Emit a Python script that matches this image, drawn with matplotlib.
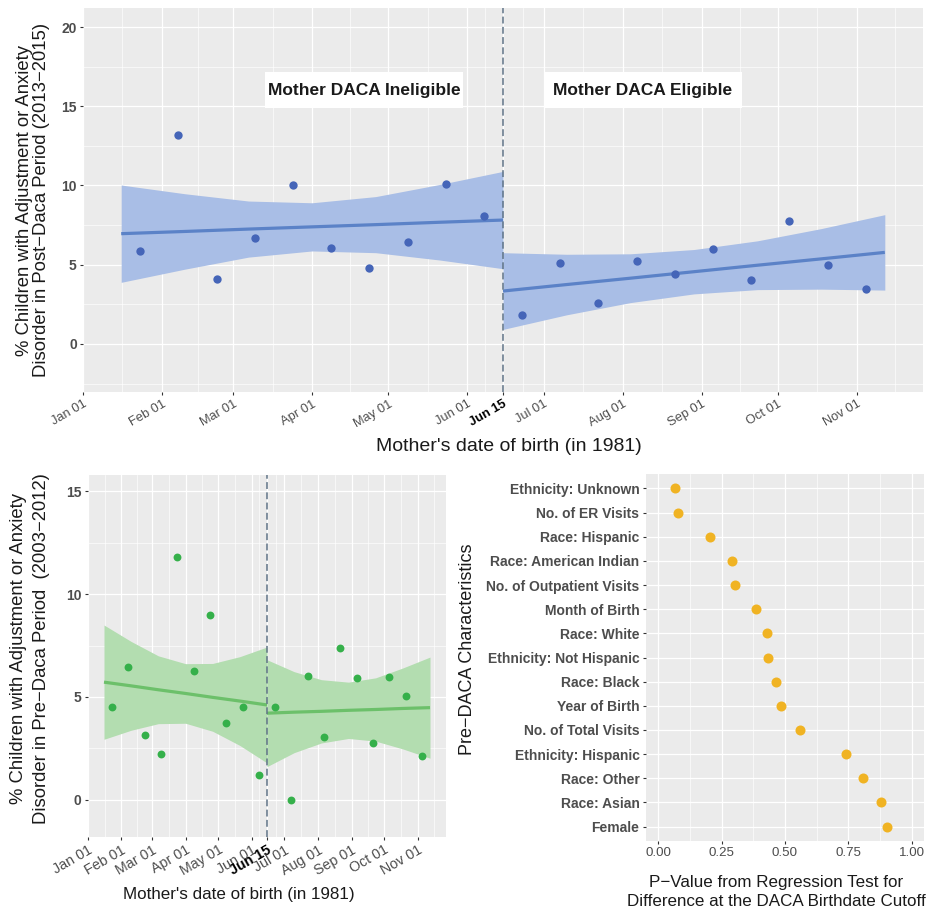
import numpy as np
import pandas as pd
import matplotlib
matplotlib.use('Agg')
import matplotlib.pyplot as plt
from matplotlib.patches import Rectangle

plt.rcParams['font.family'] = ['Liberation Sans', 'DejaVu Sans']

start = pd.Timestamp('1981-01-01')
cutoff = pd.Timestamp('1981-06-15')
cut_day = (cutoff - start).days

# 15-day bins of mother's birth date, centres as days after Jan 01 1981
bin_day = [22.5, 37.5, 52.5, 67.5, 82.5, 97.5, 112.5, 127.5, 142.5, 157.5,
           172.5, 187.5, 202.5, 217.5, 232.5, 247.5, 262.5, 277.5, 292.5, 307.5]
post_pct = [5.87, 13.2, 4.08, 6.67, 10.0, 6.04, 4.8, 6.42, 10.1, 8.08,
            1.85, 5.09, 2.59, 5.26, 4.42, 5.97, 4.04, 7.76, 4.98, 3.49]
pre_pct = [4.53, 6.45, 3.13, 2.23, 11.79, 6.25, 8.98, 3.72, 4.5, 1.19,
           4.53, 0.0, 6.04, 3.05, 7.4, 5.93, 2.76, 5.99, 5.04, 2.14]

# linear fits with 95% bands
fit_day_left = [15, 40, 65, 90, 115, 140, 165]
fit_day_right = [165, 190, 215, 240, 265, 290, 315]

post_fit_left = [6.96, 7.10, 7.25, 7.39, 7.53, 7.68, 7.82]
post_hi_left = [10.03, 9.48, 9.02, 8.91, 9.30, 10.06, 10.89]
post_lo_left = [3.89, 4.72, 5.48, 5.87, 5.76, 5.30, 4.75]
post_fit_right = [3.34, 3.75, 4.15, 4.56, 4.97, 5.37, 5.78]
post_hi_right = [5.76, 5.66, 5.69, 5.96, 6.51, 7.28, 8.16]
post_lo_right = [0.92, 1.84, 2.61, 3.16, 3.43, 3.46, 3.40]

pre_fit_left = [5.72, 5.54, 5.35, 5.17, 4.98, 4.80, 4.61]
pre_hi_left = [8.50, 7.70, 7.00, 6.62, 6.63, 6.96, 7.43]
pre_lo_left = [2.94, 3.38, 3.70, 3.72, 3.33, 2.64, 1.79]
pre_fit_right = [4.21, 4.26, 4.30, 4.35, 4.39, 4.44, 4.48]
pre_hi_right = [6.81, 6.23, 5.84, 5.72, 5.93, 6.41, 6.94]
pre_lo_right = [1.61, 2.29, 2.76, 2.98, 2.85, 2.47, 2.02]

characteristics = ['Ethnicity: Unknown', 'No. of ER Visits', 'Race: Hispanic',
                   'Race: American Indian', 'No. of Outpatient Visits', 'Month of Birth',
                   'Race: White', 'Ethnicity: Not Hispanic', 'Race: Black', 'Year of Birth',
                   'No. of Total Visits', 'Ethnicity: Hispanic', 'Race: Other',
                   'Race: Asian', 'Female']
p_values = [0.064, 0.079, 0.204, 0.291, 0.301, 0.387, 0.427, 0.431, 0.465, 0.486,
            0.560, 0.742, 0.806, 0.878, 0.903]

month_starts = pd.date_range('1981-01-01', '1981-12-01', freq='MS')
tick_dates = sorted(list(month_starts[:-1]) + [cutoff])
tick_days = [(d - start).days for d in tick_dates]
tick_labels = [d.strftime('%b %d') for d in tick_dates]
all_breaks = sorted([(d - start).days for d in month_starts] + [cut_day])
minor_days = [(a + b) / 2 for a, b in zip(all_breaks[:-1], all_breaks[1:])]

BG = '#ebebeb'
TICK = '#333333'
LAB = '#4d4d4d'


def gg_axes(ax):
    ax.set_facecolor(BG)
    for s in ax.spines.values():
        s.set_visible(False)
    ax.grid(which='major', color='white', lw=0.9)
    ax.grid(which='minor', color='white', lw=0.45)
    ax.set_axisbelow(True)
    ax.tick_params(which='major', length=2.5, width=0.8, color=TICK, labelcolor=LAB, pad=2)
    ax.tick_params(which='minor', length=0)


def date_panel(ax, pct, fits, pt_col, line_col, band_col, ylim, yticks, xfs, yfs, pt_size):
    gg_axes(ax)
    for days, fit, lo, hi in fits:
        ax.fill_between(days, lo, hi, color=band_col, lw=0, zorder=2)
        ax.plot(days, fit, color=line_col, lw=2.3, zorder=3, solid_capstyle='butt')
    ax.scatter(bin_day, pct, s=pt_size, color=pt_col, lw=0, zorder=4)
    ax.axvline(cut_day, color='#5f7386', lw=1.1, ls=(0, (4.5, 2.2)), zorder=5)
    ax.set_xticks(tick_days)
    ax.set_xticklabels(tick_labels, rotation=30, ha='right', va='top',
                       rotation_mode='anchor', fontsize=xfs)
    ax.set_xticks(minor_days, minor=True)
    ax.set_yticks(yticks)
    ax.set_yticklabels([str(v) for v in yticks], fontsize=yfs, fontweight='bold')
    yt = np.array(yticks)
    ax.set_yticks(np.concatenate([yt - 2.5, [yt[-1] + 2.5]]), minor=True)
    # limits last, so the minor ticks do not widen the view
    ax.set_xlim(0, 330)
    ax.set_ylim(*ylim)
    for lbl in ax.get_xticklabels():
        if lbl.get_text() == cutoff.strftime('%b %d'):
            lbl.set_fontweight('bold')
            lbl.set_color('black')


W, H = 927, 914
fig = plt.figure(figsize=(W / 100, H / 100), dpi=100)


def px_axes(x0, y0, x1, y1):
    return fig.add_axes([x0 / W, 1 - y1 / H, (x1 - x0) / W, (y1 - y0) / H])


# top panel: post-DACA period
ax1 = px_axes(83, 8, 923, 392)
date_panel(ax1, post_pct,
           [(fit_day_left, post_fit_left, post_lo_left, post_hi_left),
            (fit_day_right, post_fit_right, post_lo_right, post_hi_right)],
           '#4565b8', '#5b82c7', '#a9bee6', (-3.03, 21.2), [0, 5, 10, 15, 20], 9.3, 10, 36)
for x0, x1, txt in [(71.5, 149.3, 'Mother DACA Ineligible'), (181.1, 258.8, 'Mother DACA Eligible')]:
    ax1.add_patch(Rectangle((x0, 14.87), x1 - x0, 2.31, facecolor='white', edgecolor='none', zorder=6))
    ax1.text((x0 + x1) / 2, 16.0, txt, ha='center', va='center', fontsize=12.5,
             fontweight='bold', color='#1a1a1a', zorder=7)
fig.text(33 / W, 1 - 200 / H,
         '% Children with Adjustment or Anxiety\nDisorder in Post\u2212Daca Period (2013\u22122015)',
         rotation=90, ha='center', va='center', fontsize=13.3, color='#1a1a1a', linespacing=0.95)
fig.text(509 / W, 1 - 447 / H, "Mother's date of birth (in 1981)", ha='center', va='center',
         fontsize=14, color='#1a1a1a')

# bottom left: pre-DACA period
ax2 = px_axes(87.7, 475, 446.3, 836.7)
date_panel(ax2, pre_pct,
           [(fit_day_left, pre_fit_left, pre_lo_left, pre_hi_left),
            (fit_day_right, pre_fit_right, pre_lo_right, pre_hi_right)],
           '#35b04a', '#6cc06a', '#b3ddb0', (-1.8, 15.8), [0, 5, 10, 15], 10.3, 10, 32)
fig.text(30 / W, 1 - 649 / H,
         '% Children with Adjustment or Anxiety\nDisorder in Pre\u2212Daca Period  (2003\u22122012)',
         rotation=90, ha='center', va='center', fontsize=13.3, color='#1a1a1a', linespacing=1.45)
fig.text(239 / W, 1 - 895 / H, "Mother's date of birth (in 1981)", ha='center', va='center',
         fontsize=12.25, color='#1a1a1a')

# bottom right: balance tests
ax3 = px_axes(645.7, 474, 924.3, 841)
gg_axes(ax3)
ypos = np.arange(len(characteristics))[::-1] + 1
ax3.scatter(p_values, ypos, s=52, color='#f0b323', lw=0, zorder=3)
ax3.set_xticks([0, 0.25, 0.5, 0.75, 1.0])
ax3.set_xticklabels(['0.00', '0.25', '0.50', '0.75', '1.00'], fontsize=9.6)
ax3.set_xticks([0.125, 0.375, 0.625, 0.875], minor=True)
ax3.set_yticks(ypos)
ax3.set_yticklabels(characteristics, fontsize=10, fontweight='bold')
ax3.set_xlim(-0.05, 1.05)
ax3.set_ylim(0.4, len(characteristics) + 0.6)
fig.text(467 / W, 1 - 649 / H, 'Pre\u2212DACA Characteristics', rotation=90, ha='center',
         va='center', fontsize=13, color='#1a1a1a')
fig.text(776 / W, 1 - 892 / H,
         'P\u2212Value from Regression Test for\nDifference at the DACA Birthdate Cutoff',
         ha='center', va='center', fontsize=12.25, color='#1a1a1a', linespacing=1.35)

fig.savefig('out.png', dpi=100)
